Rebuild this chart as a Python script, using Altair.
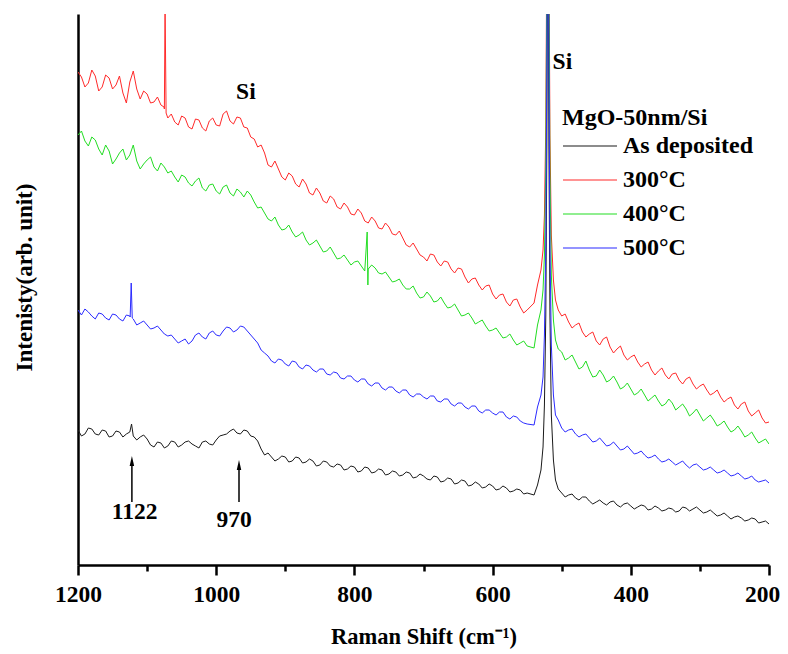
import altair as alt
import pandas as pd

FONT = "Liberation Serif"

series_names = ["As deposited", "300°C", "400°C", "500°C"]
series_colors = ["#1a1a1a", "#ff2a2a", "#22dd22", "#2b2bff"]

# Raman shift sampling (cm^-1)
shift_main = list(range(1200, 549, -10))
shift_main_mid = list(range(1195, 554, -10))
shift_peak = [540, 535, 530, 527, 525, 523, 521.5, 520, 518.5, 517, 515, 512, 509, 505]
shift_tail = list(range(500, 199, -10))
shift_tail_mid = list(range(495, 204, -10))

# As deposited (black)
black_main = [135, 131, 136, 130, 134, 129, 133, 131, 129, 128,
              126, 118, 122, 119, 123, 120, 124, 119, 123, 121,
              125, 130, 134, 132, 135, 129, 124, 110, 108, 106,
              108, 104, 107, 103, 104, 100, 103, 98, 100, 96,
              98, 94, 97, 93, 95, 91, 93, 90, 92, 88,
              89, 85, 88, 84, 86, 82, 84, 80, 81, 78,
              79, 76, 77, 74, 75, 72]
black_main_mid = [129, 137, 131, 135, 128, 134, 128, 133, 125, 130,
                  120, 123, 117, 124, 118, 123, 121, 117, 124, 120,
                  129, 131, 136, 131, 134, 128, 116, 112, 104, 109,
                  103, 108, 102, 106, 99, 104, 99, 101, 95, 99,
                  93, 98, 92, 96, 90, 94, 89, 93, 87, 91,
                  86, 89, 83, 87, 81, 85, 79, 83, 77, 81,
                  75, 79, 73, 76, 71]
black_peak = [70, 80, 95, 118, 160, 250, 420, 700, 420, 250, 150, 105, 85, 76]
black_tail = [72, 70, 67, 68, 64, 63, 62, 63, 60, 61,
              59, 58, 59, 56, 57, 55, 56, 54, 57, 56,
              55, 53, 52, 50, 49, 48, 47, 45, 46, 43,
              41]
black_tail_mid = [68, 71, 65, 68, 61, 65, 60, 64, 58, 62,
                  56, 60, 55, 59, 54, 57, 53, 58, 54, 58,
                  52, 55, 49, 52, 46, 49, 44, 47, 42, 44]

# 300 C (red)
red_main = [493, 478, 495, 474, 490, 476, 489, 462, 494, 466,
            471, 463, 460, 447, 443, 449, 438, 446, 437, 444,
            440, 451, 444, 448, 438, 428, 418, 412, 398, 396,
            385, 389, 378, 381, 370, 372, 362, 366, 356, 358,
            350, 352, 342, 344, 336, 338, 330, 327, 318, 316,
            308, 311, 303, 304, 296, 297, 288, 286, 280, 279,
            271, 270, 263, 265, 258, 255]
red_main_mid = [488, 482, 489, 478, 487, 480, 472, 483, 476, 474,
                462, 468, 456, 451, 440, 447, 436, 445, 434, 447,
                439, 454, 441, 447, 437, 426, 420, 400, 404, 388,
                392, 381, 386, 372, 377, 364, 369, 358, 362, 351,
                356, 344, 348, 337, 342, 331, 334, 320, 322, 310,
                304, 310, 299, 303, 292, 296, 282, 287, 275, 280,
                266, 271, 259, 266, 252]
red_peak = [262, 280, 295, 315, 350, 440, 620, 900, 620, 430, 330, 285, 265, 255]
red_tail = [249, 243, 240, 233, 231, 224, 226, 218, 216, 210,
            208, 203, 201, 195, 194, 190, 191, 185, 186, 181,
            179, 175, 172, 168, 166, 160, 161, 154, 152, 147,
            143]
red_tail_mid = [251, 237, 242, 228, 233, 220, 228, 212, 219, 205,
                210, 198, 203, 190, 197, 186, 192, 181, 188, 176,
                181, 170, 175, 163, 168, 156, 163, 149, 155, 142]

# 400 C (green)
green_main = [430, 424, 428, 416, 420, 401, 412, 405, 420, 396,
              405, 398, 402, 392, 388, 390, 382, 384, 377, 380,
              374, 378, 372, 376, 368, 370, 357, 352, 344, 340,
              336, 333, 330, 325, 322, 319, 314, 312, 307, 305,
              303, 299, 296, 297, 291, 288, 284, 280, 276, 272,
              268, 269, 264, 262, 258, 255, 250, 247, 243, 239,
              235, 232, 228, 225, 222, 219]
green_main_mid = [434, 419, 425, 410, 414, 406, 416, 410, 404, 401,
                  408, 394, 398, 394, 383, 388, 379, 387, 374, 381,
                  371, 380, 369, 373, 374, 363, 358, 346, 348, 335,
                  340, 328, 333, 320, 325, 313, 318, 306, 310, 300,
                  304, 294, 300, 292, 293, 283, 286, 276, 279, 267,
                  273, 263, 268, 257, 261, 249, 252, 241, 245, 234,
                  237, 227, 231, 220, 224]
green_peak = [217, 240, 255, 275, 310, 400, 580, 900, 580, 390, 290, 245, 225, 216]
green_tail = [213, 207, 203, 198, 195, 189, 190, 185, 183, 178,
              176, 172, 170, 167, 164, 161, 162, 158, 156, 152,
              150, 147, 145, 141, 138, 135, 134, 130, 127, 124,
              121]
green_tail_mid = [205, 210, 196, 204, 188, 195, 183, 189, 176, 182,
                  170, 176, 164, 170, 159, 166, 155, 161, 149, 156,
                  144, 150, 139, 144, 133, 139, 128, 133, 122, 126]

# 500 C (blue)
blue_main = [255, 256, 249, 252, 247, 251, 246, 250, 246, 242,
             240, 237, 235, 229, 226, 224, 221, 230, 228, 232,
             230, 234, 237, 235, 238, 230, 222, 212, 204, 206,
             201, 204, 198, 200, 195, 196, 191, 193, 187, 189,
             185, 186, 181, 182, 177, 178, 174, 175, 170, 171,
             168, 169, 164, 166, 161, 162, 158, 159, 154, 155,
             152, 153, 148, 149, 144, 141]
blue_main_mid = [250, 253, 246, 251, 245, 250, 244, 249, 240, 244,
                 236, 239, 231, 230, 222, 226, 224, 232, 226, 234,
                 229, 238, 233, 239, 234, 226, 215, 209, 202, 205,
                 199, 203, 196, 199, 193, 196, 190, 192, 186, 189,
                 183, 186, 179, 182, 175, 178, 172, 175, 168, 171,
                 166, 169, 163, 166, 159, 162, 156, 159, 152, 155,
                 150, 153, 146, 148, 142]
blue_peak = [140, 158, 170, 188, 230, 320, 500, 900, 500, 320, 220, 170, 150, 145]
blue_tail = [137, 135, 131, 130, 127, 124, 123, 120, 119, 116,
             115, 112, 110, 108, 106, 104, 103, 102, 100, 100,
             98, 96, 95, 93, 92, 90, 89, 87, 85, 84,
             82]
blue_tail_mid = [133, 136, 128, 131, 123, 127, 119, 123, 115, 119,
                 111, 114, 107, 110, 103, 106, 100, 104, 97, 101,
                 95, 98, 92, 95, 89, 92, 86, 89, 83, 85]

# narrow spikes
extra_series = ["As deposited", "300°C", "300°C", "300°C", "400°C", "400°C",
                "500°C", "500°C", "500°C"]
extra_shift = [1122.5, 1075.5, 1074, 1072.5, 781.5, 780.5, 1124.5, 1123, 1121.5]
extra_int = [141, 458, 560, 452, 333, 280, 248, 282, 247]

# annotations
ann_text = ["Si", "Si", "1122", "970"]
ann_shift = [957, 499, 1118, 974]
ann_int = [473, 503, 53, 45]

arrow_shift = [1122, 967]
arrow_base = [63, 63]
arrow_shaft_top = [100, 96]
arrow_head = [104, 100]

x_ticks = [1200, 1100, 1000, 900, 800, 700, 600, 500, 400, 300, 200]

rows = []
all_shift = shift_main + shift_main_mid + shift_peak + shift_tail + shift_tail_mid
for name, m, mm, p, t, tm in zip(
        series_names,
        [black_main, red_main, green_main, blue_main],
        [black_main_mid, red_main_mid, green_main_mid, blue_main_mid],
        [black_peak, red_peak, green_peak, blue_peak],
        [black_tail, red_tail, green_tail, blue_tail],
        [black_tail_mid, red_tail_mid, green_tail_mid, blue_tail_mid]):
    for s, v in zip(all_shift, m + mm + p + t + tm):
        rows.append({"shift": s, "intensity": v, "series": name})
for name, s, v in zip(extra_series, extra_shift, extra_int):
    rows.append({"shift": s, "intensity": v, "series": name})
df = pd.DataFrame(rows)

ann_df = pd.DataFrame({"shift": ann_shift, "intensity": ann_int, "label": ann_text})
arrow_df = pd.DataFrame({"shift": arrow_shift, "intensity": arrow_base,
                         "intensity2": arrow_shaft_top})
head_df = pd.DataFrame({"shift": arrow_shift, "intensity": arrow_head})

x_enc = alt.X(
    "shift:Q",
    scale=alt.Scale(domain=[200, 1200], reverse=True, nice=False, zero=False),
    axis=alt.Axis(
        title="Raman Shift (cm⁻¹)",
        values=x_ticks,
        format="d",
        labelExpr="datum.value % 200 == 0 ? datum.label : ''",
        tickSize={"condition": {"test": "datum.value % 200 != 0", "value": 6}, "value": 10},
        labelOffset={"condition": {"test": "datum.value == 200", "value": -7}, "value": 0},
        tickWidth=2.5,
        tickColor="black",
        domainWidth=2.5,
        domainColor="black",
        grid=False,
        labelFont=FONT,
        labelFontSize=23.5,
        labelFontWeight="bold",
        labelColor="black",
        labelPadding=7,
        labelFlush=False,
        labelOverlap=False,
        titleFont=FONT,
        titleFontSize=22.5,
        titleFontWeight="bold",
        titleColor="black",
        titlePadding=20,
    ),
)

y_enc = alt.Y(
    "intensity:Q",
    scale=alt.Scale(domain=[0, 551], nice=False, zero=False),
    axis=alt.Axis(
        title="Intenisty(arb. unit)",
        labels=False,
        ticks=False,
        grid=False,
        domainWidth=2.5,
        domainColor="black",
        titleFont=FONT,
        titleFontSize=23,
        titleFontWeight="bold",
        titleColor="black",
        titlePadding=42,
        titleY=263,
    ),
)

color_enc = alt.Color(
    "series:N",
    scale=alt.Scale(domain=series_names, range=series_colors),
    legend=alt.Legend(
        title="MgO-50nm/Si",
        orient="none",
        legendX=484,
        legendY=92,
        padding=0,
        titleFont=FONT,
        titleFontSize=24,
        titleFontWeight="bold",
        titleColor="black",
        titlePadding=4,
        labelFont=FONT,
        labelFontSize=24,
        labelFontWeight="bold",
        labelColor="black",
        labelOffset=5,
        symbolType="stroke",
        symbolSize=2916,
        clipHeight=24,
        symbolStrokeWidth=1.2,
        rowPadding=10,
    ),
)

lines = alt.Chart(df).mark_line(strokeWidth=1, clip=True).encode(
    x=x_enc, y=y_enc, color=color_enc
)

texts = alt.Chart(ann_df).mark_text(
    font=FONT, fontSize=23.5, fontWeight="bold", color="black",
    align="center", baseline="middle"
).encode(x=x_enc, y=y_enc, text="label:N")

shafts = alt.Chart(arrow_df).mark_rule(strokeWidth=1.5, color="black").encode(
    x=x_enc, y=y_enc, y2=alt.Y2("intensity2:Q")
)

heads = alt.Chart(head_df).mark_point(
    shape="M0,-1L-0.45,1L0.45,1Z", size=100, filled=True, color="black", opacity=1
).encode(x=x_enc, y=y_enc)

chart = alt.layer(lines, texts, shafts, heads).properties(
    width=691,
    height=551,
    padding={"left": 70, "top": 6, "right": 11, "bottom": 89},
    autosize=alt.AutoSizeParams(type="none"),
    background="white",
).configure_view(stroke=None)

chart.save("out.html", embed_options={"renderer": "svg", "actions": False})
